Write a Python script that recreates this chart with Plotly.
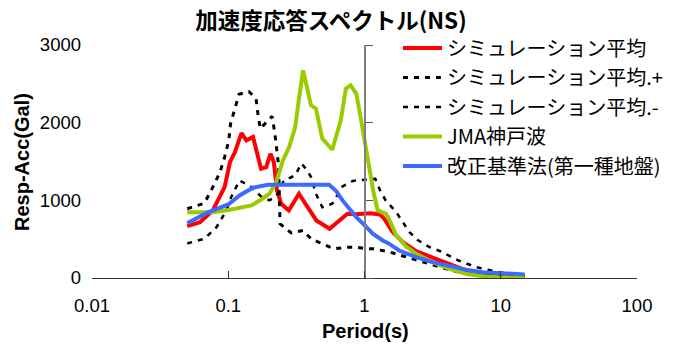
import plotly.graph_objects as go

# ---- data (period in s, response acceleration in Gal) ----
T_mean = [0.05, 0.062, 0.077, 0.094, 0.103, 0.112, 0.125, 0.136, 0.152, 0.162, 0.174, 0.19, 0.204, 0.216,
          0.228, 0.245, 0.278, 0.33, 0.38, 0.443, 0.554, 0.656, 0.75, 0.87, 1.0, 1.1, 1.3, 1.4, 1.6, 1.91,
          2.39, 3.16, 4.2, 5.56, 7.36, 9.75, 15]
V_mean = [667, 719, 870, 1170, 1492, 1621, 1866, 1772, 1815, 1643, 1407, 1428, 1600, 1492,
          1128, 956, 870, 1085, 912, 741, 634, 741, 827, 820, 825, 835, 818, 760, 600, 461,
          345, 260, 174, 97, 54, 32, 19]

T_plus = [0.05, 0.067, 0.077, 0.087, 0.094, 0.101, 0.104, 0.112, 0.12, 0.142, 0.16, 0.165, 0.172, 0.196,
          0.21, 0.22, 0.227, 0.234, 0.24, 0.29, 0.354, 0.405, 0.49, 0.6, 0.75, 0.87, 1.0, 1.15, 1.49,
          1.86, 2.2, 2.8, 3.5, 4.5, 5.56, 8.2, 15]
V_plus = [892, 964, 1170, 1363, 1557, 1772, 1987, 2167, 2365, 2400, 2309, 2116, 1923, 2030,
          2081, 1858, 1643, 1450, 698, 580, 612, 505, 440, 376, 397, 397, 380, 376, 340,
          290, 247, 195, 140, 90, 60, 32, 15]

T_minus = [0.05, 0.067, 0.082, 0.097, 0.105, 0.121, 0.148, 0.174, 0.2, 0.225, 0.256, 0.31, 0.344, 0.38,
           0.405, 0.44, 0.49, 0.58, 0.69, 0.82, 1.0, 1.2, 1.3, 1.43, 1.71, 2.14, 2.44, 3.0, 3.6, 4.9,
           6.6, 9.75, 15]
V_minus = [445, 505, 655, 870, 1041, 1256, 1170, 1050, 1000, 1050, 1256, 1321, 1475, 1385,
           1299, 1085, 912, 956, 1179, 1250, 1265, 1278, 1130, 999, 848, 590, 492, 397, 345, 225,
           139, 75, 32]

T_jma = [0.05, 0.078, 0.103, 0.148, 0.174, 0.201, 0.225, 0.252, 0.28, 0.31, 0.33, 0.354, 0.405, 0.44,
         0.49, 0.58, 0.67, 0.73, 0.79, 0.87, 0.94, 1.06, 1.17, 1.25, 1.36, 1.44, 1.53, 1.71, 2.02,
         2.39, 3.16, 4.2, 5.56, 7.36, 10, 15]
V_jma = [848, 848, 879, 934, 1008, 1085, 1235, 1514, 1686, 1943, 2300, 2674, 2223, 2180,
         1794, 1652, 2030, 2438, 2481, 2374, 2051, 1514, 1085, 870, 848, 827, 741, 548, 406,
         312, 204, 119, 54, 23, 8, 3]

T_bsl = [0.05, 0.069, 0.1, 0.121, 0.152, 0.196, 0.55, 0.62, 0.69, 0.78, 0.87, 1.0, 1.15, 1.36, 1.49,
         1.8, 2.39, 3.16, 4.2, 5.56, 7.36, 9.75, 15]
V_bsl = [706, 835, 947, 1063, 1162, 1201, 1201, 1119, 999, 880, 784, 680, 570, 483, 449,
         354, 268, 204, 148, 106, 75, 62, 45]

names = ["シミュレーション平均", "シミュレーション平均.+", "シミュレーション平均.-", "JMA神戸波", "改正基準法(第一種地盤)"]

x_ticks = [0.01, 0.1, 1, 10, 100]
x_ticktext = ["0.01", "0.1", "1", "10", "100"]
y_ticks = [0, 1000, 2000, 3000]
y_ticktext = ["0", "1000", "2000", "3000"]

JP = "Noto Sans CJK JP"
LAT = "Liberation Sans, Arial, sans-serif"

# page geometry (body margin removed below, so figure pixels == page pixels)
W, H = 677, 347
PLOT_L, PLOT_R, PLOT_T, PLOT_B = 92, 637, 45, 278
ML, MR, MT, MB = PLOT_L, 5, 20, H - PLOT_B
PW, PH = W - ML - MR, H - MT - MB
xdom = [0, (PLOT_R - ML) / PW]
ydom = [0, (PLOT_B - PLOT_T) / PH]

def px2paper_x(px):
    return (px - ML) / PW
def py2paper_y(py):
    return (PLOT_B - py) / PH

fig = go.Figure()
specs = [
    (T_mean, V_mean, names[0], dict(color="#FF0000", width=4)),
    (T_plus, V_plus, names[1], dict(color="#000000", width=3, dash="5px,6px")),
    (T_minus, V_minus, names[2], dict(color="#000000", width=2.5, dash="5px,6px")),
    (T_jma, V_jma, names[3], dict(color="#99CC00", width=4)),
    (T_bsl, V_bsl, names[4], dict(color="#3D6BFF", width=4)),
]
for i, (tx, vy, nm, ln) in enumerate(specs):
    fig.add_trace(go.Scatter(x=tx, y=vy, name=nm, mode="lines", line=ln,
                             legendgroup=f"g{i}", hoverinfo="skip"))

# helper trace so the axis that crosses at T=1 is drawn
fig.add_trace(go.Scatter(x=[1], y=[0], yaxis="y2", mode="lines", showlegend=False,
                         line=dict(color="rgba(0,0,0,0)"), hoverinfo="skip"))

fig.update_layout(
    width=W, height=H,
    margin=dict(l=ML, r=MR, t=MT, b=MB, autoexpand=False),
    paper_bgcolor="white", plot_bgcolor="white",
    title=dict(text="<b>加速度応答スペクトル(NS)</b>", x=331 / W, xanchor="center",
               y=1 - 21 / H, yanchor="middle",
               font=dict(family=JP, size=22.5, color="black")),
    xaxis=dict(type="log", range=[-2, 2], domain=xdom, tickvals=x_ticks, ticktext=x_ticktext,
               ticks="inside", ticklen=7, tickcolor="#333", showline=True, linecolor="#333",
               linewidth=1, showgrid=False, zeroline=False, ticklabelstandoff=11,
               tickfont=dict(family=LAT, size=18.5, color="black")),
    yaxis=dict(range=[0, 3000], domain=ydom, tickvals=y_ticks, ticktext=y_ticktext, ticks="",
               showline=False, showgrid=False, zeroline=False, ticklabelstandoff=10,
               tickfont=dict(family=LAT, size=18.5, color="black")),
    yaxis2=dict(range=[0, 3000], domain=ydom, tickvals=y_ticks, overlaying="y", anchor="free",
                position=0.5 * xdom[1], side="right", ticks="outside", ticklen=7, tickcolor="#555",
                showline=True, linecolor="#808080", linewidth=2, showticklabels=False,
                showgrid=False, zeroline=False),
    legend=dict(x=px2paper_x(398), xanchor="left", y=py2paper_y(28.5), yanchor="top",
                bgcolor="rgba(0,0,0,0)", borderwidth=0, itemwidth=39,
                font=dict(family=JP, size=20, color="black"),
                traceorder="grouped", tracegroupgap=0.5),
    annotations=[
        dict(text="<b>Resp-Acc(Gal)</b>", textangle=-90, xref="paper", yref="paper",
             x=px2paper_x(22), y=py2paper_y(162), xanchor="center", yanchor="middle",
             showarrow=False, font=dict(family=LAT, size=20, color="black")),
        dict(text="<b>Period(s)</b>", xref="paper", yref="paper",
             x=px2paper_x(365), y=py2paper_y(331), xanchor="center", yanchor="middle",
             showarrow=False, font=dict(family=LAT, size=20, color="black")),
    ],
    showlegend=True,
)

fig.write_html("out.html", config={"displayModeBar": False},
               post_script="document.body.style.margin='0';document.body.style.overflow='hidden';")
